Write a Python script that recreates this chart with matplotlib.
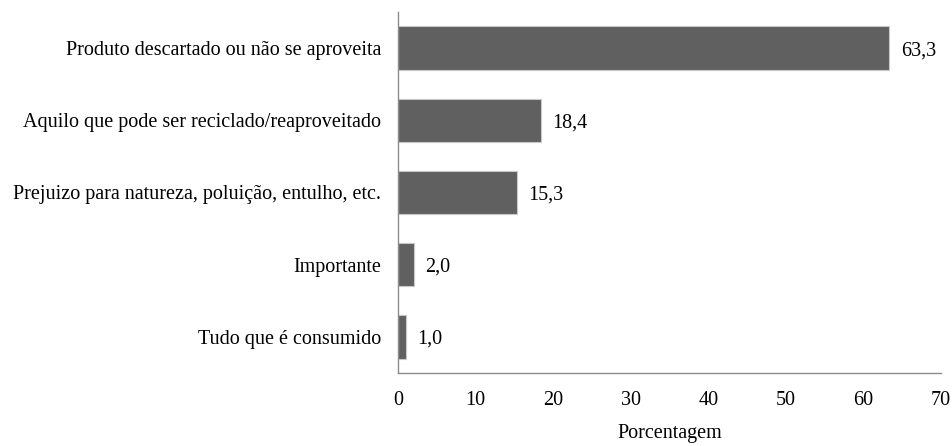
import matplotlib
matplotlib.use("Agg")
import matplotlib.pyplot as plt

categories = [
    "Produto descartado ou não se aproveita",
    "Aquilo que pode ser reciclado/reaproveitado",
    "Prejuizo para natureza, poluição, entulho, etc.",
    "Importante",
    "Tudo que é consumido",
]
values = [63.3, 18.4, 15.3, 2.0, 1.0]
xticks = [0, 10, 20, 30, 40, 50, 60, 70]

plt.rcParams["font.family"] = ["Liberation Serif", "DejaVu Serif"]
plt.rcParams["font.size"] = 14.5

fig = plt.figure(figsize=(9.53, 4.46), dpi=100)
ax = fig.add_axes([398 / 953, 1 - 373 / 446, 543 / 953, 361 / 446])

pos = list(range(len(categories)))
ax.barh(pos, values, height=0.6, color="#606060", edgecolor="#c8c8c8", linewidth=0.8)
for p, v in zip(pos, values):
    ax.text(v + 1.5, p, f"{v:.1f}".replace(".", ","), va="center_baseline", ha="left")

ax.set_ylim(len(categories) - 0.5, -0.5)
ax.set_xlim(0, 70)
ax.set_yticks(pos)
ax.set_yticklabels(categories)
ax.set_xticks(xticks)
ax.tick_params(axis="both", length=0)
ax.tick_params(axis="y", pad=12)
ax.tick_params(axis="x", pad=13)
ax.set_xlabel("Porcentagem", labelpad=10)

for s in ["top", "right"]:
    ax.spines[s].set_visible(False)
for s in ["left", "bottom"]:
    ax.spines[s].set_color("#8c8c8c")
    ax.spines[s].set_linewidth(1.0)

fig.savefig("out.png", dpi=100)
